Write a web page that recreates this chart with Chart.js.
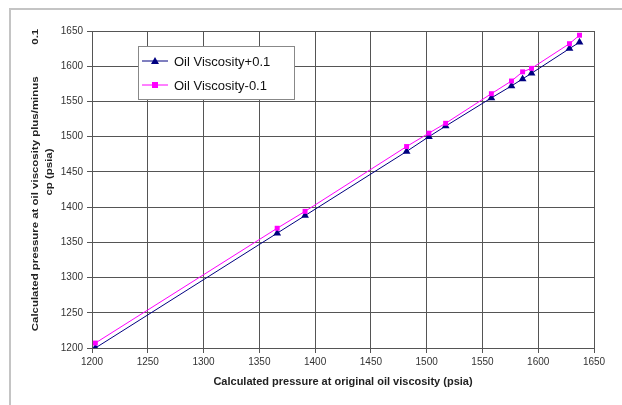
<!DOCTYPE html>
<html>
<head>
<meta charset="utf-8">
<script src="https://cdn.jsdelivr.net/npm/chart.js@4.4.1/dist/chart.umd.min.js"></script>
<style>
  html, body { margin: 0; padding: 0; background: #fff; }
  #wrap { width: 622px; height: 405px; position: relative; }
</style>
</head>
<body>
<div id="wrap"><canvas id="myChart"></canvas></div>
<script>
// original oil viscosity pressure (x) vs pressure at viscosity +/- 0.1 cp (y)
const presionOriginal = [1203, 1366, 1391, 1482, 1502, 1517, 1558, 1576, 1586, 1594, 1628, 1637];
const presionMas = [1200, 1363, 1388, 1479, 1500, 1515, 1555, 1572, 1582, 1590, 1625, 1634];
const presionMenos = [1207, 1370, 1394, 1486, 1505, 1519, 1561, 1579, 1592, 1597, 1632, 1644];
const titulos = ['Oil Viscosity+0.1', 'Oil Viscosity-0.1'];
const tituloY = ['Calculated pressure at oil viscosity plus/minus          0.1', 'cp (psia)'];
const colores = ['#000080', '#ff00ff'];
const marcas = ['triangle', 'rect'];

const puntos = (ys) => presionOriginal.map((x, i) => ({ x: x, y: ys[i] }));

// gray frame around the chart object
const marco = {
    id: 'marco',
    beforeDraw(chart) {
        const c = chart.ctx;
        c.save();
        c.fillStyle = '#fff';
        c.fillRect(0, 0, chart.width, chart.height);
        c.strokeStyle = '#c4c4c4';
        c.lineWidth = 2;
        c.beginPath();
        c.moveTo(10, 405);
        c.lineTo(10, 9);
        c.lineTo(622, 9);
        c.stroke();
        c.restore();
    }
};

// y title: the original is stretched along its length, so draw it by hand
const tituloVertical = {
    id: 'tituloVertical',
    afterDraw(chart) {
        const c = chart.ctx;
        c.save();
        c.font = 'bold 9px "Liberation Sans", Arial, sans-serif';
        c.fillStyle = '#222';
        c.textAlign = 'center';
        c.textBaseline = 'middle';
        [[36, 180], [50, 172]].forEach((p, i) => {
            c.save();
            c.translate(p[0], p[1]);
            c.rotate(-Math.PI / 2);
            c.scale(1.27, 1);
            c.fillText(tituloY[i], 0, 0);
            c.restore();
        });
        c.restore();
    }
};

// legend box drawn inside the plot, like the original
const leyenda = {
    id: 'leyenda',
    afterDraw(chart) {
        const c = chart.ctx;
        const x0 = 138, y0 = 46, w = 156, h = 53;
        c.save();
        c.fillStyle = '#fff';
        c.fillRect(x0, y0, w, h);
        c.strokeStyle = '#888';
        c.lineWidth = 1;
        c.strokeRect(x0 + 0.5, y0 + 0.5, w, h);
        c.font = '13px "Liberation Sans", Arial, sans-serif';
        c.textBaseline = 'middle';
        titulos.forEach((t, i) => {
            const y = y0 + 15 + i * 24;
            c.strokeStyle = colores[i];
            c.lineWidth = 1;
            c.beginPath();
            c.moveTo(x0 + 4, y);
            c.lineTo(x0 + 30, y);
            c.stroke();
            c.fillStyle = colores[i];
            if (i === 0) {
                c.beginPath();
                c.moveTo(x0 + 17, y - 4);
                c.lineTo(x0 + 21, y + 3);
                c.lineTo(x0 + 13, y + 3);
                c.closePath();
                c.fill();
            } else {
                c.fillRect(x0 + 14, y - 3, 6, 6);
            }
            c.fillStyle = '#111';
            c.fillText(t, x0 + 36, y + 1);
        });
        c.restore();
    }
};

const ctx = document.getElementById('myChart');

const mychart = new Chart(ctx, {
    type: 'line',
    data: {
        datasets: [{
            label: titulos[0],
            data: puntos(presionMas),
            borderColor: colores[0],
            backgroundColor: colores[0],
            borderWidth: 1,
            pointStyle: marcas[0],
            pointRadius: 4.5,
            pointBorderWidth: 0,
            order: 2
        }, {
            label: titulos[1],
            data: puntos(presionMenos),
            borderColor: colores[1],
            backgroundColor: colores[1],
            borderWidth: 1,
            pointStyle: marcas[1],
            pointRadius: 3.5,
            pointBorderWidth: 0,
            order: 1
        }]
    },
    options: {
        responsive: true,
        maintainAspectRatio: false,
        animation: false,
        layout: {
            padding: { left: 0, top: 31, right: 28, bottom: 0 }
        },
        scales: {
            x: {
                type: 'linear',
                min: 1200,
                max: 1650,
                afterFit: (s) => { s.height = 57; },
                ticks: {
                    stepSize: 50,
                    color: '#333',
                    padding: 3,
                    maxRotation: 0,
                    callback: (v) => String(v),
                    font: { family: '"Liberation Sans", Arial', size: 10 }
                },
                grid: { color: '#555', lineWidth: 1, tickLength: 5 },
                border: { color: '#555' },
                title: {
                    display: true,
                    text: 'Calculated pressure at original oil viscosity (psia)',
                    color: '#222',
                    padding: { top: 0, bottom: 16 },
                    font: { family: '"Liberation Sans", Arial', size: 11, weight: 'bold' }
                }
            },
            y: {
                type: 'linear',
                min: 1200,
                max: 1650,
                afterFit: (s) => { s.width = 92; },
                ticks: {
                    stepSize: 50,
                    color: '#333',
                    padding: 4,
                    callback: (v) => String(v),
                    font: { family: '"Liberation Sans", Arial', size: 10 }
                },
                grid: { color: '#555', lineWidth: 1, tickLength: 5 },
                border: { color: '#555' },
                title: { display: false }
            }
        },
        plugins: {
            legend: { display: false },
            tooltip: { enabled: false }
        }
    },
    plugins: [marco, tituloVertical, leyenda]
});
</script>
</body>
</html>
